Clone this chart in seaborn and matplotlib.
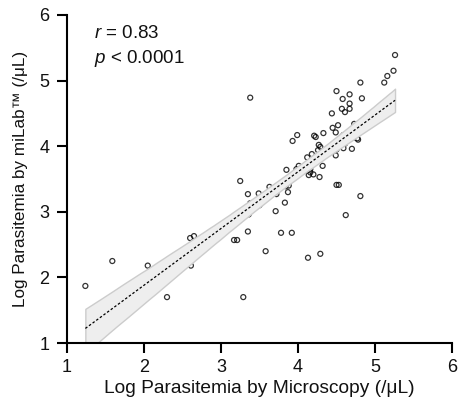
import numpy as np
import pandas as pd
import matplotlib
matplotlib.use("Agg")
import matplotlib.pyplot as plt
import seaborn as sns

microscopy = [1.24, 1.59, 2.05, 2.08, 2.25, 2.37, 2.30, 2.60, 2.65, 2.61, 2.71, 2.87,
              3.17, 3.21, 3.21, 3.35, 3.38, 3.49, 3.50, 3.36, 3.35, 3.29, 3.25, 3.53,
              3.38, 3.58, 3.63, 3.71, 3.72, 3.78, 3.84, 3.88, 3.87, 3.83, 3.71, 3.78,
              3.92, 4.13, 4.29, 3.85, 4.01, 3.98, 4.01, 3.99, 4.05, 4.09, 4.11, 4.16,
              4.14, 4.20, 4.16, 4.32, 4.28, 3.93, 3.99, 4.12, 4.18, 4.25, 4.26, 4.31,
              4.36, 4.27, 4.29, 4.21, 4.23, 4.33, 4.43, 4.49, 4.50, 4.59, 4.70, 4.54,
              4.61, 4.59, 4.60, 4.67, 4.49, 4.45, 4.52, 4.73, 4.75, 4.72, 4.77, 4.78,
              4.44, 4.57, 4.61, 4.67, 4.67, 4.50, 4.58, 4.67, 4.83, 4.81, 5.12, 5.16,
              5.24, 5.26, 4.50, 4.53, 4.81, 4.62]
milab = [1.87, 2.25, 2.18, 2.09, 2.18, 2.10, 1.70, 2.60, 2.63, 2.18, 2.40, 2.55,
         2.57, 2.57, 2.89, 3.27, 3.13, 3.28, 3.10, 2.96, 2.70, 1.70, 3.47, 3.23,
         4.74, 2.40, 3.38, 3.31, 3.27, 3.38, 3.39, 3.40, 3.30, 3.14, 3.01, 2.68,
         2.68, 2.30, 2.36, 3.64, 3.70, 3.65, 3.61, 3.60, 3.63, 3.66, 3.63, 3.65,
         3.56, 3.57, 3.60, 3.70, 3.53, 4.08, 4.17, 3.83, 3.88, 3.83, 3.94, 3.90,
         3.91, 4.02, 3.99, 4.16, 4.14, 4.20, 3.97, 3.86, 3.95, 3.97, 3.96, 4.06,
         4.04, 4.17, 4.12, 4.21, 4.21, 4.28, 4.32, 4.34, 4.29, 4.13, 4.12, 4.10,
         4.50, 4.57, 4.52, 4.65, 4.57, 4.84, 4.72, 4.79, 4.73, 4.97, 4.97, 5.07,
         5.15, 5.39, 3.41, 3.41, 3.24, 2.95]

ticks = [1, 2, 3, 4, 5, 6]
stats_text = ["r", " = 0.83", "p", " < 0.0001"]

df = pd.DataFrame({"micro": microscopy, "milab": milab})

sns.set_theme(style="ticks")
plt.rcParams['font.family'] = ['Liberation Sans', 'DejaVu Sans']
plt.rcParams['mathtext.fontset'] = 'custom'
plt.rcParams['mathtext.it'] = 'Liberation Sans:italic'
plt.rcParams['mathtext.rm'] = 'Liberation Sans'

fig = plt.figure(figsize=(4.58, 4.05), dpi=100)
ax = fig.add_axes([0.146, 0.153, 0.841, 0.810])

sns.regplot(data=df, x="micro", y="milab", ax=ax, ci=95, n_boot=2000, seed=1,
            color="black",
            scatter_kws=dict(s=13, facecolors="none", edgecolors="black", linewidths=0.9),
            line_kws=dict(color="black", lw=0.9, ls=(0, (2.0, 1.6))))

for coll in ax.collections:
    if isinstance(coll, matplotlib.collections.PolyCollection):
        coll.set_facecolor("#eeeeee")
        coll.set_edgecolor("#cccccc")
        coll.set_linewidth(1.0)
        coll.set_alpha(1.0)

ax.set_xlim(1, 6)
ax.set_ylim(1, 6)
ax.set_xticks(ticks)
ax.set_yticks(ticks)
ax.set_xticklabels([str(t) for t in ticks])
ax.set_yticklabels([str(t) for t in ticks])

for side in ["top", "right"]:
    ax.spines[side].set_visible(False)
for side in ["left", "bottom"]:
    ax.spines[side].set_linewidth(1.5)
    ax.spines[side].set_color("black")
ax.tick_params(axis="both", direction="out", length=7.5, width=1.5, color="black",
               labelsize=13, labelcolor="#111111")
ax.tick_params(axis="x", pad=4)
ax.tick_params(axis="y", pad=5)

ax.set_xlabel("Log Parasitemia by Microscopy (/μL)", fontsize=13.8, color="#111111", labelpad=3)
ax.set_ylabel("Log Parasitemia by miLab™ (/μL)", fontsize=12.3, color="#111111", labelpad=8)

ax.text(0.07, 0.97, f"$\\it{{{stats_text[0]}}}$" + stats_text[1], transform=ax.transAxes,
        fontsize=13.5, va="top", ha="left", color="#111111")
ax.text(0.07, 0.898, f"$\\it{{{stats_text[2]}}}$" + stats_text[3], transform=ax.transAxes,
        fontsize=13.5, va="top", ha="left", color="#111111")

fig.savefig("out.png", dpi=100)
